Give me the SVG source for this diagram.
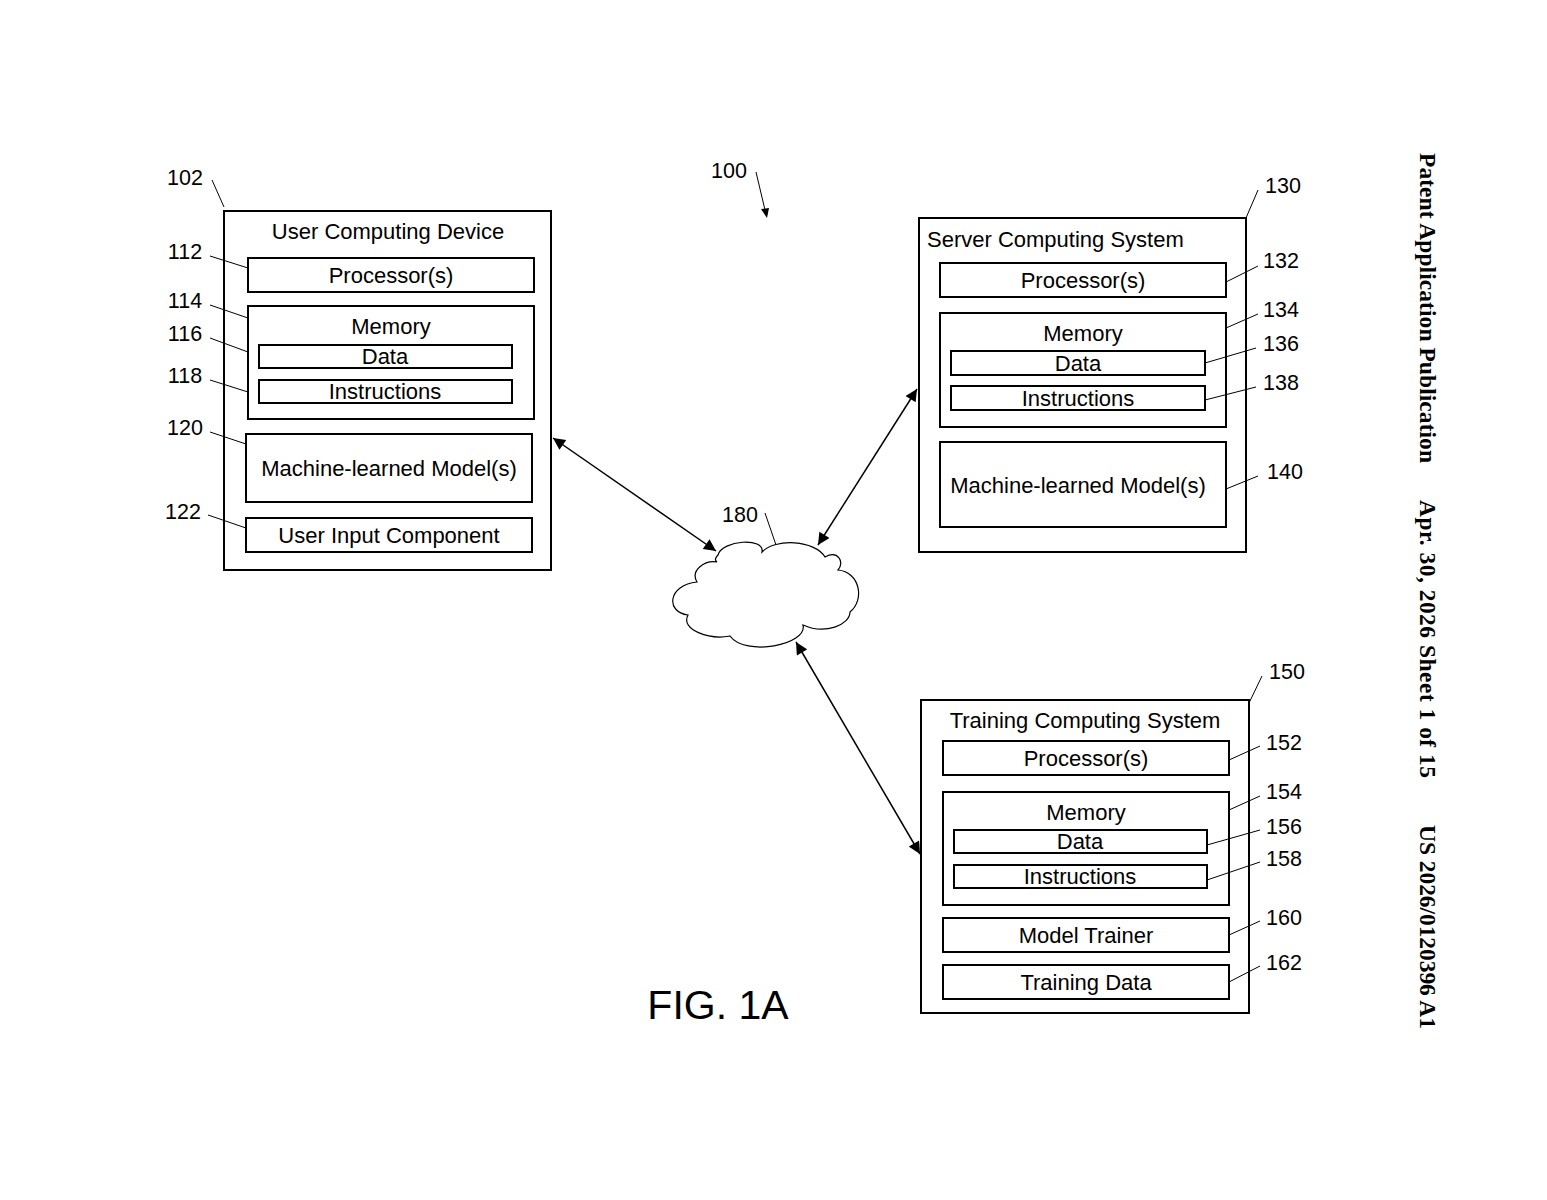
<svg xmlns="http://www.w3.org/2000/svg" width="1547" height="1200" viewBox="0 0 1547 1200">
<style>
.b{fill:#fff;stroke:#000;stroke-width:2}
.t{font-family:Arial,"Liberation Sans",sans-serif;font-size:22px;fill:#000;text-anchor:middle}
.n{font-family:Arial,"Liberation Sans",sans-serif;font-size:21.5px;fill:#000;text-anchor:middle}
.l{stroke:#000;stroke-width:1;fill:none}
.c{stroke:#000;stroke-width:1.5;fill:none;marker-start:url(#a);marker-end:url(#a)}
.h{font-family:"Liberation Serif",serif;font-weight:bold;font-size:23.5px;fill:#000}
</style>
<defs><marker id="a" viewBox="0 0 10 10" refX="10" refY="5" markerWidth="14" markerHeight="12" markerUnits="userSpaceOnUse" orient="auto-start-reverse"><path d="M0,0L10,5L0,10z"/></marker></defs>
<rect width="1547" height="1200" fill="#fff"/>
<g id="n102">
<rect class="b" x="224" y="211" width="327" height="359"/>
<text class="t" x="388" y="239">User Computing Device</text>
<rect class="b" x="248" y="258" width="286" height="34"/><text class="t" x="391" y="283">Processor(s)</text>
<rect class="b" x="248" y="306" width="286" height="113"/><text class="t" x="391" y="334">Memory</text>
<rect class="b" x="259" y="345" width="253" height="23"/><text class="t" x="385" y="364">Data</text>
<rect class="b" x="259" y="380" width="253" height="23"/><text class="t" x="385" y="399">Instructions</text>
<rect class="b" x="246" y="434" width="286" height="68"/><text class="t" x="389" y="476">Machine-learned Model(s)</text>
<rect class="b" x="246" y="518" width="286" height="34"/><text class="t" x="389" y="543">User Input Component</text>
<text class="n" x="185" y="185">102</text><path class="l" d="M212,180L224,207"/>
<text class="n" x="185" y="259">112</text><path class="l" d="M210,256L248,268"/>
<text class="n" x="185" y="308">114</text><path class="l" d="M210,305L248,318"/>
<text class="n" x="185" y="341">116</text><path class="l" d="M210,338L248,352"/>
<text class="n" x="185" y="383">118</text><path class="l" d="M210,380L248,392"/>
<text class="n" x="185" y="435">120</text><path class="l" d="M210,432L246,444"/>
<text class="n" x="183" y="519">122</text><path class="l" d="M208,515L246,528"/>
</g>
<g id="n130">
<rect class="b" x="919" y="218" width="327" height="334"/>
<text class="t" x="927" y="247" style="text-anchor:start">Server Computing System</text>
<rect class="b" x="940" y="263" width="286" height="34"/><text class="t" x="1083" y="288">Processor(s)</text>
<rect class="b" x="940" y="313" width="286" height="114"/><text class="t" x="1083" y="341">Memory</text>
<rect class="b" x="951" y="351" width="254" height="24"/><text class="t" x="1078" y="371">Data</text>
<rect class="b" x="951" y="386" width="254" height="24"/><text class="t" x="1078" y="406">Instructions</text>
<rect class="b" x="940" y="442" width="286" height="85"/><text class="t" x="1078" y="493">Machine-learned Model(s)</text>
<text class="n" x="1283" y="193">130</text><path class="l" d="M1258,190L1246,218"/>
<text class="n" x="1281" y="268">132</text><path class="l" d="M1258,266L1226,282"/>
<text class="n" x="1281" y="317">134</text><path class="l" d="M1258,314L1226,328"/>
<text class="n" x="1281" y="351">136</text><path class="l" d="M1256,348L1205,363"/>
<text class="n" x="1281" y="390">138</text><path class="l" d="M1256,387L1205,400"/>
<text class="n" x="1285" y="479">140</text><path class="l" d="M1258,476L1226,489"/>
</g>
<g id="n150">
<rect class="b" x="921" y="700" width="328" height="313"/>
<text class="t" x="1085" y="728">Training Computing System</text>
<rect class="b" x="943" y="741" width="286" height="34"/><text class="t" x="1086" y="766">Processor(s)</text>
<rect class="b" x="943" y="792" width="286" height="113"/><text class="t" x="1086" y="820">Memory</text>
<rect class="b" x="954" y="830" width="253" height="23"/><text class="t" x="1080" y="849">Data</text>
<rect class="b" x="954" y="865" width="253" height="23"/><text class="t" x="1080" y="884">Instructions</text>
<rect class="b" x="943" y="918" width="286" height="34"/><text class="t" x="1086" y="943">Model Trainer</text>
<rect class="b" x="943" y="965" width="286" height="34"/><text class="t" x="1086" y="990">Training Data</text>
<text class="n" x="1287" y="679">150</text><path class="l" d="M1262,676L1249,703"/>
<text class="n" x="1284" y="750">152</text><path class="l" d="M1260,746L1229,760"/>
<text class="n" x="1284" y="799">154</text><path class="l" d="M1260,796L1229,810"/>
<text class="n" x="1284" y="834">156</text><path class="l" d="M1260,830L1207,845"/>
<text class="n" x="1284" y="866">158</text><path class="l" d="M1260,862L1207,880"/>
<text class="n" x="1284" y="925">160</text><path class="l" d="M1260,921L1229,935"/>
<text class="n" x="1284" y="970">162</text><path class="l" d="M1260,966L1229,982"/>
</g>
<g id="n180">
<path class="b" style="stroke-width:1.2" d="M718,555C722,540 765,537 762,552C775,538 815,540 825,557C838,550 845,562 838,570C860,572 865,600 850,612C850,625 825,635 803,625C808,645 745,657 730,636C710,640 680,630 688,615C665,612 668,585 697,582C690,570 705,560 717,562C714,560 716,557 718,555Z"/>
<text class="n" x="740" y="522">180</text><path class="l" d="M765,513L776,545"/>
</g>
<g id="n100">
<text class="n" x="729" y="178">100</text>
<path class="l" d="M756,172L765,210"/><path d="M761,209L767,218L769,208Z"/>
</g>
<g id="connectors">
<path class="c" d="M553,438L716,551"/>
<path class="c" d="M917,389L818,545"/>
<path class="c" d="M796,642L920,854"/>
</g>
<text x="718" y="1019" style="font-family:Arial,'Liberation Sans',sans-serif;font-size:41px;text-anchor:middle">FIG. 1A</text>
<g transform="translate(1420,153) rotate(90)">
<text class="h" x="0" y="0" textLength="310">Patent Application Publication</text>
<text class="h" x="347" y="0" textLength="278">Apr. 30, 2026  Sheet 1 of 15</text>
<text class="h" x="672" y="0" textLength="204">US 2026/0120396 A1</text>
</g>
</svg>
